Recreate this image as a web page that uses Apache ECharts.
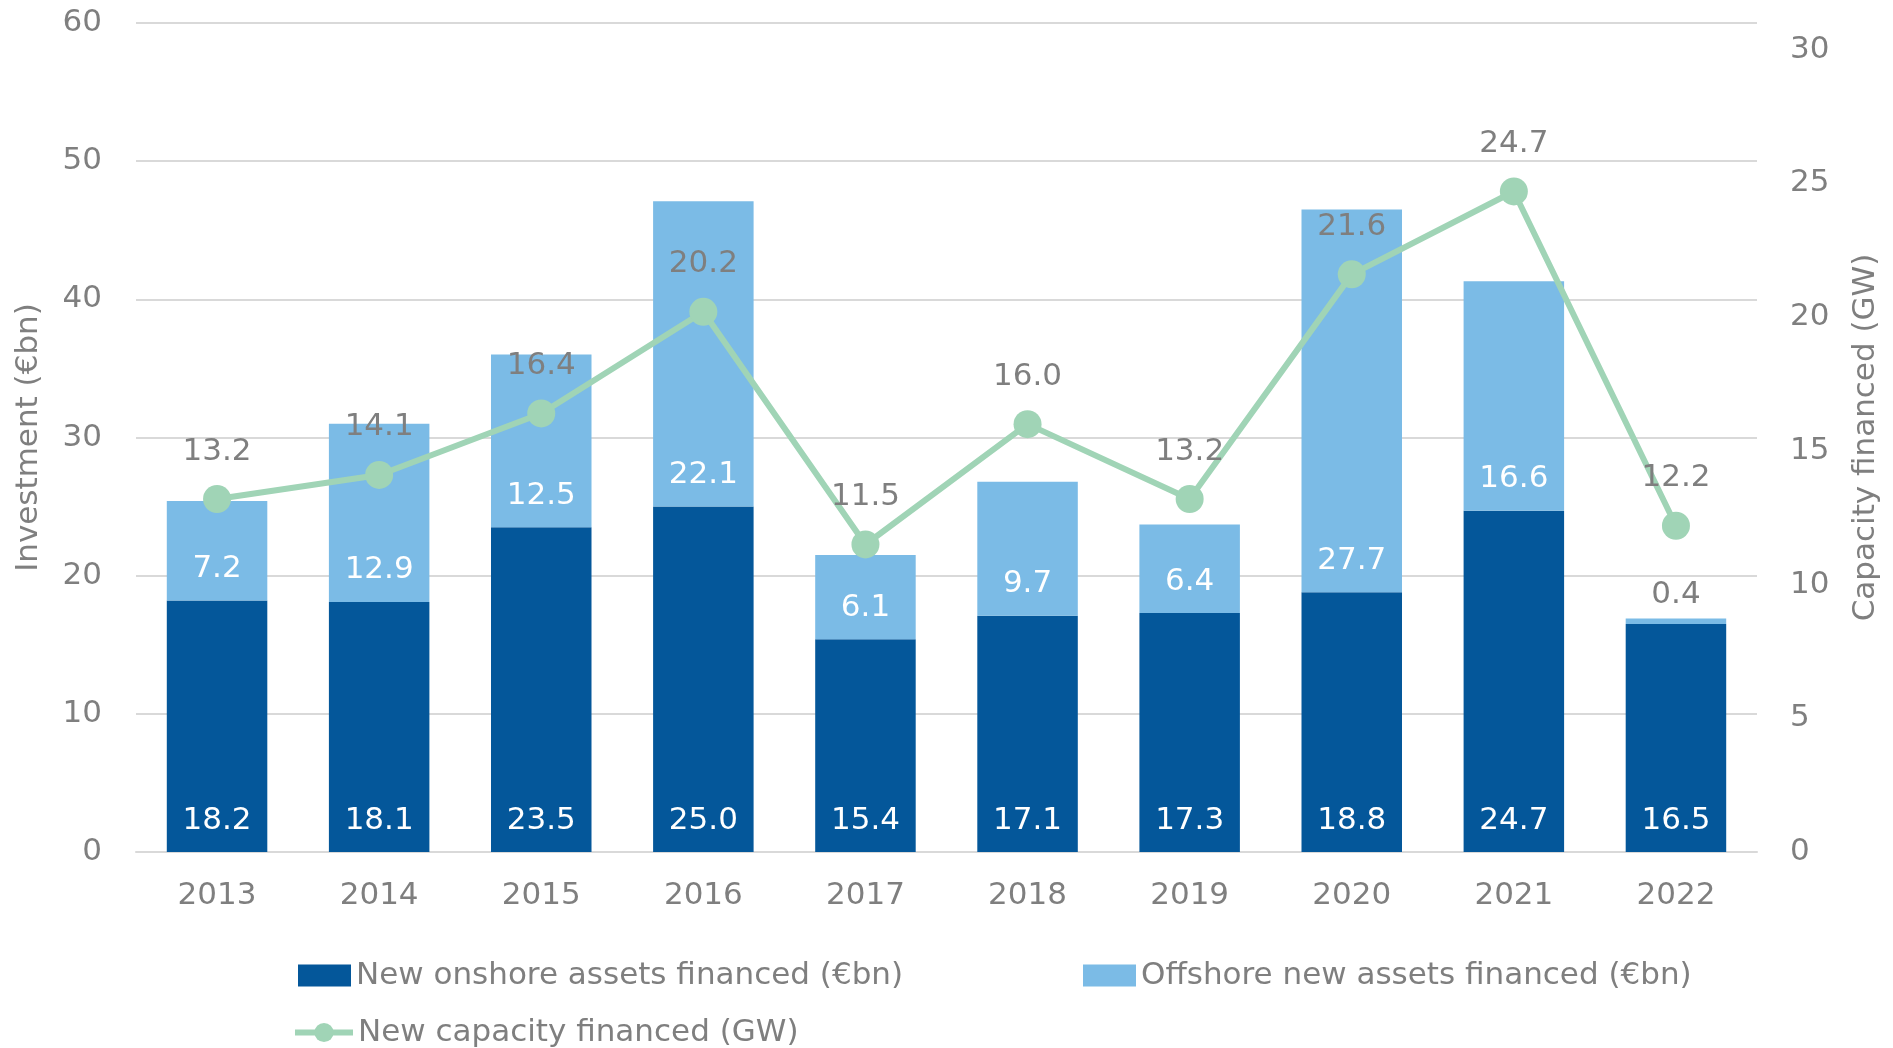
<!DOCTYPE html>
<html>
<head>
<meta charset="utf-8">
<script src="https://cdn.jsdelivr.net/npm/echarts@6/dist/echarts.min.js"></script>
<style>
html,body{margin:0;padding:0;background:#fff;}
#chart{width:1893px;height:1048px;}
</style>
</head>
<body>
<div id="chart"></div>
<script>
const years = ['2013','2014','2015','2016','2017','2018','2019','2020','2021','2022'];
const onshore = [18.2, 18.1, 23.5, 25.0, 15.4, 17.1, 17.3, 18.8, 24.7, 16.5];
const offshore = [7.2, 12.9, 12.5, 22.1, 6.1, 9.7, 6.4, 27.7, 16.6, 0.4];
const capacity = [13.2, 14.1, 16.4, 20.2, 11.5, 16.0, 13.2, 21.6, 24.7, 12.2];

const FONT = 'DejaVu Sans';
const GRAY = '#7f7f7f';
const FS = 31;

const offshoreData = offshore.map(v => v < 2 ? {
  value: v,
  label: { position: 'top', color: GRAY, distance: 8 }
} : v);

const chart = echarts.init(document.getElementById('chart'), null, {renderer: 'canvas'});
chart.setOption({
  animation: false,
  textStyle: { fontFamily: FONT },
  grid: { left: 136, right: 136, top: 23, bottom: 196 },
  legend: [
    { left: 293, top: 955, itemWidth: 53, itemHeight: 22, icon: 'rect', data: ['New onshore assets financed (€bn)'],
      textStyle: { color: GRAY, fontSize: FS, fontFamily: FONT } },
    { left: 1078, top: 955, itemWidth: 53, itemHeight: 22, icon: 'rect', data: ['Offshore new assets financed (€bn)'],
      textStyle: { color: GRAY, fontSize: FS, fontFamily: FONT } },
    { left: 287, top: 1012, itemWidth: 58, itemHeight: 24, data: ['New capacity financed (GW)'],
      lineStyle: { width: 6 },
      textStyle: { color: GRAY, fontSize: FS, fontFamily: FONT } }
  ],
  xAxis: {
    type: 'category',
    data: years,
    axisTick: { show: false },
    axisLine: { lineStyle: { color: '#d9d9d9', width: 2 } },
    axisLabel: { color: GRAY, fontSize: FS, fontFamily: FONT, margin: 28 }
  },
  yAxis: [
    {
      type: 'value', min: 0, max: 60, interval: 10,
      name: 'Investment (€bn)', nameLocation: 'middle', nameRotate: 90, nameGap: 92,
      nameTextStyle: { color: GRAY, fontSize: FS, fontFamily: FONT },
      axisLine: { show: false }, axisTick: { show: false },
      axisLabel: { color: GRAY, fontSize: FS, fontFamily: FONT, margin: 34 },
      splitLine: { lineStyle: { color: '#d9d9d9', width: 2 } }
    },
    {
      type: 'value', min: 0, max: 31, interval: 5,
      name: 'Capacity financed (GW)', nameLocation: 'middle', nameRotate: 90, nameGap: 93,
      nameTextStyle: { color: GRAY, fontSize: FS, fontFamily: FONT },
      axisLine: { show: false }, axisTick: { show: false },
      axisLabel: { color: GRAY, fontSize: FS, fontFamily: FONT, margin: 33, showMaxLabel: false,
        formatter: v => (v % 5 === 0 ? String(v) : '') },
      splitLine: { show: false }
    }
  ],
  series: [
    {
      name: 'New onshore assets financed (€bn)',
      type: 'bar', stack: 'inv', barWidth: '62%',
      itemStyle: { color: '#04579a' },
      label: { show: true, position: 'insideBottom', distance: 16, color: '#fff', fontSize: FS, fontFamily: FONT,
        formatter: p => p.value.toFixed(1) },
      data: onshore
    },
    {
      name: 'Offshore new assets financed (€bn)',
      type: 'bar', stack: 'inv', barWidth: '62%',
      itemStyle: { color: '#7bbbe6' },
      label: { show: true, position: 'insideBottom', distance: 16, color: '#fff', fontSize: FS, fontFamily: FONT,
        formatter: p => (typeof p.value === 'number' ? p.value : p.data.value).toFixed(1) },
      data: offshoreData
    },
    {
      name: 'New capacity financed (GW)',
      type: 'line', yAxisIndex: 1, z: 5,
      symbol: 'circle', symbolSize: 28,
      itemStyle: { color: '#a0d4b6' },
      lineStyle: { color: '#a0d4b6', width: 6 },
      label: { show: true, position: 'top', distance: 18, color: GRAY, fontSize: FS, fontFamily: FONT,
        formatter: p => p.value.toFixed(1) },
      data: capacity
    }
  ]
});
</script>
</body>
</html>
